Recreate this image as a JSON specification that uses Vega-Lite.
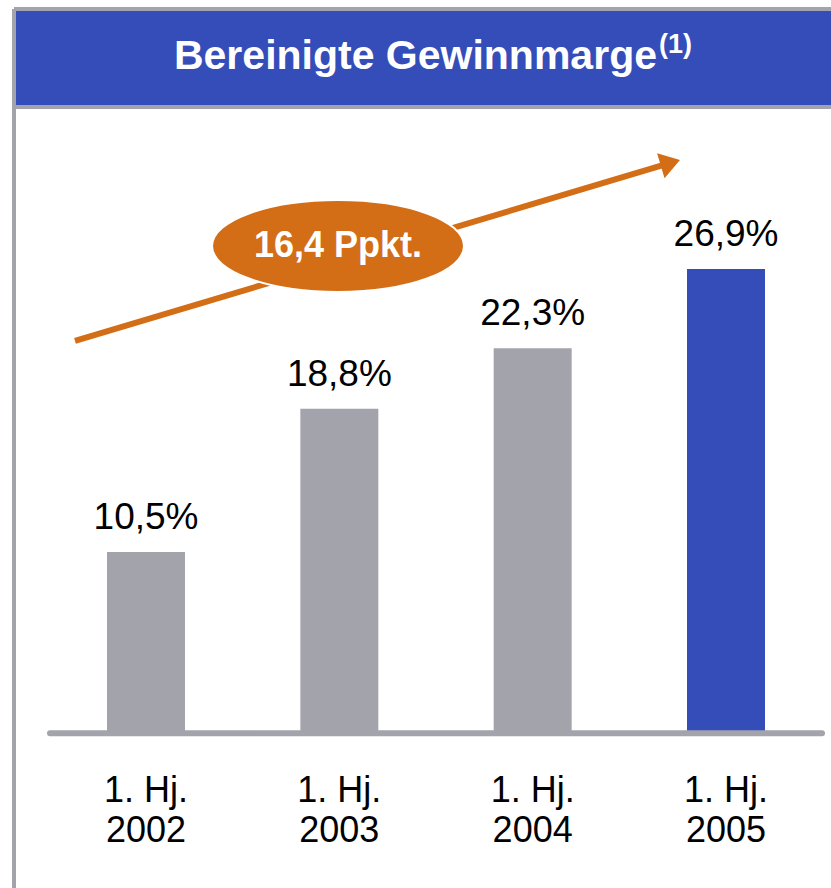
{
  "$schema": "https://vega.github.io/schema/vega-lite/v6.json",
  "padding": {"left": 14, "top": 9, "right": 0, "bottom": 0},
  "spacing": 0,
  "bounds": "flush",
  "background": "white",
  "config": {
    "view": {"stroke": null},
    "font": "Liberation Sans",
    "axis": {"translate": 0, "domainColor": "#A3A3AC", "domainWidth": 4, "domainCap": "butt", "ticks": false, "labels": false, "grid": false},
    "locale": {"number": {"decimal": ",", "thousands": ".", "grouping": [3], "currency": ["", " €"]}}
  },
  "vconcat": [
    {
      "width": 817,
      "height": 98,
      "view": {"fill": "#344DB9", "stroke": null},
      "data": {"values": [{"title": "Bereinigte Gewinnmarge", "note": "(1)"}]},
      "layer": [
        {
          "mark": {"type": "text", "fontWeight": "bold", "fontSize": 41, "color": "white", "align": "right", "baseline": "alphabetic"},
          "encoding": {
            "x": {"datum": 0.787, "type": "quantitative", "scale": {"domain": [0, 1], "nice": false, "zero": false, "padding": 0}, "axis": {"orient": "top", "title": null}},
            "y": {"datum": 0.3878, "type": "quantitative", "scale": {"domain": [0, 1], "nice": false, "zero": false, "padding": 0}, "axis": {"orient": "left", "title": null}},
            "text": {"field": "title"}
          }
        },
        {
          "mark": {"type": "text", "fontWeight": "bold", "fontSize": 27, "color": "white", "align": "left", "baseline": "alphabetic"},
          "encoding": {
            "x": {"datum": 0.7895, "type": "quantitative", "axis": {"orient": "top", "title": null}},
            "y": {"datum": 0.551, "type": "quantitative", "axis": {"orient": "left", "title": null}},
            "text": {"field": "note"}
          }
        }
      ]
    },
    {
      "width": 817,
      "height": 781,
      "data": {"values": [
        {"year": 2002, "period": "1. Hj.\n2002", "margin": 0.105},
        {"year": 2003, "period": "1. Hj.\n2003", "margin": 0.188},
        {"year": 2004, "period": "1. Hj.\n2004", "margin": 0.223},
        {"year": 2005, "period": "1. Hj.\n2005", "margin": 0.269}
      ]},
      "layer": [
        {
          "mark": {"type": "bar", "width": 78},
          "encoding": {
            "x": {"field": "year", "type": "quantitative", "scale": {"domain": [2001.3172, 2005.5431], "nice": false, "zero": false, "padding": 0}, "axis": {"orient": "top", "title": null}},
            "y": {"field": "margin", "type": "quantitative", "scale": {"domain": [-0.08969, 0.3628], "nice": false, "zero": false, "padding": 0}, "axis": {"orient": "left", "title": null}},
            "y2": {"datum": 0},
            "color": {"condition": {"test": "datum.year === 2005", "value": "#344DB9"}, "value": "#A3A3AC"}
          }
        },
        {
          "data": {"values": [{}]},
          "mark": {"type": "rule", "color": "#A3A3AC", "strokeWidth": 6, "strokeCap": "round"},
          "encoding": {
            "x": {"datum": 2001.5034, "type": "quantitative", "axis": {"orient": "top", "title": null}},
            "x2": {"datum": 2005.4966},
            "y": {"datum": 0, "type": "quantitative", "axis": {"orient": "left", "title": null}}
          }
        },
        {
          "mark": {"type": "text", "fontSize": 37, "color": "black", "align": "center", "baseline": "alphabetic", "dy": -23},
          "encoding": {
            "x": {"field": "year", "type": "quantitative", "axis": {"orient": "top", "title": null}},
            "y": {"field": "margin", "type": "quantitative", "axis": {"orient": "left", "title": null}},
            "text": {"field": "margin", "type": "quantitative", "format": ".1%"}
          }
        },
        {
          "mark": {"type": "text", "fontSize": 36, "color": "black", "align": "center", "baseline": "alphabetic", "dy": 69, "lineBreak": "\n", "lineHeight": 40},
          "encoding": {
            "x": {"field": "year", "type": "quantitative", "axis": {"orient": "top", "title": null}},
            "y": {"datum": 0, "type": "quantitative", "axis": {"orient": "left", "title": null}},
            "text": {"field": "period"}
          }
        },
        {
          "data": {"values": [{}]},
          "mark": {"type": "rule", "color": "#D36E17", "strokeWidth": 6, "strokeCap": "butt"},
          "encoding": {
            "x": {"datum": 2001.6327, "type": "quantitative", "axis": {"orient": "top", "title": null}},
            "y": {"datum": 0.22723, "type": "quantitative", "axis": {"orient": "left", "title": null}},
            "x2": {"datum": 2004.7124},
            "y2": {"datum": 0.33042}
          }
        },
        {
          "data": {"values": [{}]},
          "mark": {"type": "point", "shape": "M-1,-1.3L1,0L-1,1.3Z", "size": 400, "filled": true, "opacity": 1, "color": "#D36E17", "angle": -16.66},
          "encoding": {
            "x": {"datum": 2004.7124, "type": "quantitative", "axis": {"orient": "top", "title": null}},
            "y": {"datum": 0.33042, "type": "quantitative", "axis": {"orient": "left", "title": null}}
          }
        },
        {
          "data": {"values": [{}]},
          "mark": {"type": "point", "shape": "M-1,0C-1,-0.2016,-0.5523,-0.365,0,-0.365C0.5523,-0.365,1,-0.2016,1,0C1,0.2016,0.5523,0.365,0,0.365C-0.5523,0.365,-1,0.2016,-1,0Z", "size": 63504, "filled": true, "opacity": 1, "fill": "#D36E17", "stroke": "white", "strokeWidth": 2},
          "encoding": {
            "x": {"datum": 2002.9931, "type": "quantitative", "axis": {"orient": "top", "title": null}},
            "y": {"datum": 0.28227, "type": "quantitative", "axis": {"orient": "left", "title": null}}
          }
        },
        {
          "data": {"values": [{}]},
          "mark": {"type": "text", "text": "16,4 Ppkt.", "fontWeight": "bold", "fontSize": 36, "color": "white", "align": "center", "baseline": "alphabetic", "dy": 11},
          "encoding": {
            "x": {"datum": 2002.9931, "type": "quantitative", "axis": {"orient": "top", "title": null}},
            "y": {"datum": 0.28227, "type": "quantitative", "axis": {"orient": "left", "title": null}}
          }
        }
      ]
    }
  ]
}
